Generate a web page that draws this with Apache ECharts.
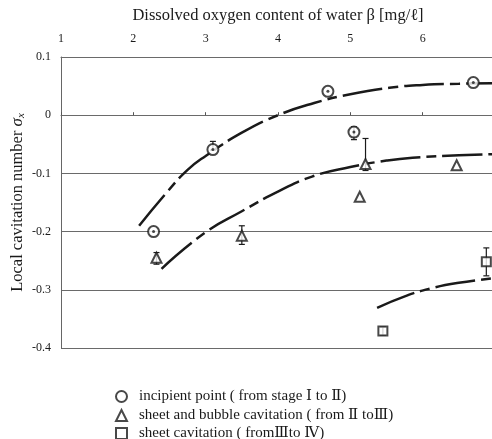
<!DOCTYPE html>
<html>
<head>
<meta charset="utf-8">
<script src="https://cdn.jsdelivr.net/npm/echarts@6/dist/echarts.min.js"></script>
<style>
  html, body { margin: 0; padding: 0; background: #fff; }
  #chart { width: 492px; height: 439px; }
</style>
</head>
<body>
<div id="chart"></div>
<script>
// oxygen content β [mg/ℓ] vs local cavitation number σx
var xTicks = [1, 2, 3, 4, 5, 6, 7]
var yTicks = [-0.4, -0.3, -0.2, -0.1, 0, 0.1]

var incipientPts = [[2.28, -0.2], [3.1, -0.059], [4.69, 0.041], [5.05, -0.029], [6.7, 0.056]]
var bubblePts = [[2.32, -0.245], [3.5, -0.207], [5.21, -0.084], [5.13, -0.14], [6.47, -0.086]]
var sheetPts = [[5.45, -0.371], [6.88, -0.252]]

// error bars: [x, low, high]
var errBars = [
  [3.1, -0.06, -0.045],
  [5.05, -0.042, -0.02],
  [2.32, -0.256, -0.236],
  [3.5, -0.222, -0.19],
  [5.21, -0.095, -0.04],
  [5.45, -0.378, -0.364],
  [6.88, -0.276, -0.228]
]

// fitted curves
var incipientCurve = [[2.08, -0.19], [2.46, -0.133], [2.75, -0.094], [3.0, -0.07], [3.5, -0.03], [4.0, 0.0], [4.5, 0.021], [5.0, 0.036], [5.54, 0.047], [6.0, 0.052], [6.5, 0.054], [7.0, 0.055]]
var bubbleCurve = [[2.39, -0.264], [2.99, -0.202], [3.5, -0.165], [4.02, -0.13], [4.48, -0.105], [5.0, -0.089], [5.5, -0.078], [5.86, -0.073], [6.5, -0.069], [7.0, -0.067]]
var sheetCurve = [[5.37, -0.331], [5.78, -0.31], [6.1, -0.298], [6.5, -0.288], [7.0, -0.28]]

var names = [
  'incipient point ( from stage Ⅰ to Ⅱ)',
  'sheet and bubble cavitation ( from Ⅱ toⅢ)',
  'sheet cavitation ( fromⅢto Ⅳ)'
]
var icons = ['emptyCircle', 'emptyTriangle', 'emptyRect']
var legendTops = [389, 408, 426]

var ink = '#1a1a1a'
var serif = '"Liberation Serif", "DejaVu Serif", serif'

var myChart = echarts.init(document.getElementById('chart'))

function curve(data) {
  return {
    type: 'line',
    data: data,
    smooth: true,
    showSymbol: false,
    silent: true,
    lineStyle: { color: ink, width: 2.5, type: [40, 6, 10, 6] },
    z: 3
  }
}

// one legend per row so they stack exactly like the figure
var legends = names.map(function (n, i) {
  return {
    orient: 'horizontal',
    left: 115,
    top: legendTops[i],
    padding: 0,
    itemWidth: 11,
    itemHeight: 11,
    selectedMode: false,
    textStyle: { fontFamily: serif, fontSize: 15, color: ink, padding: [0, 0, 0, 7] },
    data: [{ name: n, icon: icons[i] }],
    itemStyle: { color: ink, borderColor: ink, borderWidth: 1.8 }
  }
})

var option = {
  backgroundColor: '#fff',
  animation: false,
  grid: { left: 61, right: -3, top: 57, bottom: 91, outerBoundsMode: 'none', containLabel: false },
  legend: legends,
  xAxis: [
    {
      type: 'value',
      position: 'top',
      min: 1, max: 7, interval: 1,
      name: 'Dissolved oxygen content of water β [mg/ℓ]',
      nameLocation: 'middle',
      nameGap: 33,
      nameMoveOverlap: false,
      nameTextStyle: { fontFamily: serif, fontSize: 16.5, color: ink },
      axisLine: { show: true, onZero: false, lineStyle: { color: '#6a6a6a' } },
      axisTick: { show: false },
      axisLabel: { fontFamily: serif, fontSize: 12, color: ink, margin: 12 },
      splitLine: { show: false }
    },
    {
      type: 'value',
      position: 'bottom',
      min: 1, max: 7, interval: 1,
      axisLine: { show: true, onZero: true, lineStyle: { color: '#6a6a6a' } },
      axisTick: { show: true, inside: true, length: 3, lineStyle: { color: '#555' } },
      axisLabel: { show: false },
      splitLine: { show: false }
    }
  ],
  yAxis: {
    type: 'value',
    min: -0.4, max: 0.1, interval: 0.1,
    name: '{a|Local cavitation number }{s|σ}{sub|x}',
    nameLocation: 'middle',
    nameGap: 34,
    nameMoveOverlap: false,
    nameRotate: 90,
    nameTextStyle: {
      fontFamily: serif, fontSize: 16.5, color: ink,
      rich: {
        a: { fontFamily: serif, fontSize: 16.5, color: ink },
        s: { fontFamily: serif, fontSize: 17, fontStyle: 'italic', color: ink },
        sub: { fontFamily: serif, fontSize: 11, fontStyle: 'italic', color: ink, padding: [7, 0, 0, 0] }
      }
    },
    axisLine: { show: true, lineStyle: { color: '#666' } },
    axisTick: { show: false },
    axisLabel: {
      fontFamily: serif, fontSize: 12, color: ink, margin: 10,
      formatter: function (v) { return yTicks.indexOf(Math.round(v * 10) / 10) >= 0 ? String(Math.round(v * 10) / 10) : '' }
    },
    splitLine: { show: true, lineStyle: { color: '#6a6a6a', width: 1 } }
  },
  series: [
    curve(incipientCurve),
    curve(bubbleCurve),
    curve(sheetCurve),
    {
      type: 'custom',
      silent: true,
      data: errBars,
      z: 4,
      renderItem: function (params, api) {
        var x = api.value(0)
        var p1 = api.coord([x, api.value(1)])
        var p2 = api.coord([x, api.value(2)])
        var st = { stroke: ink, lineWidth: 1.2 }
        return {
          type: 'group',
          children: [
            { type: 'line', shape: { x1: p1[0], y1: p1[1], x2: p2[0], y2: p2[1] }, style: st },
            { type: 'line', shape: { x1: p1[0] - 3, y1: p1[1], x2: p1[0] + 3, y2: p1[1] }, style: st },
            { type: 'line', shape: { x1: p2[0] - 3, y1: p2[1], x2: p2[0] + 3, y2: p2[1] }, style: st }
          ]
        }
      }
    },
    {
      name: names[0],
      type: 'scatter',
      symbol: 'emptyCircle',
      symbolSize: 11,
      data: incipientPts,
      itemStyle: { color: ink, borderWidth: 1.3 },
      z: 5
    },
    {
      type: 'scatter',
      symbol: 'circle',
      symbolSize: 3,
      data: incipientPts,
      itemStyle: { color: ink },
      silent: true,
      z: 6
    },
    {
      name: names[1],
      type: 'scatter',
      symbol: 'emptyTriangle',
      symbolSize: 10,
      data: bubblePts,
      itemStyle: { color: ink, borderWidth: 1.3 },
      z: 5
    },
    {
      name: names[2],
      type: 'scatter',
      symbol: 'emptyRect',
      symbolSize: 9,
      data: sheetPts,
      itemStyle: { color: ink, borderWidth: 1.3 },
      z: 5
    }
  ]
}

myChart.setOption(option)
window.onresize = myChart.resize
</script>
</body>
</html>
